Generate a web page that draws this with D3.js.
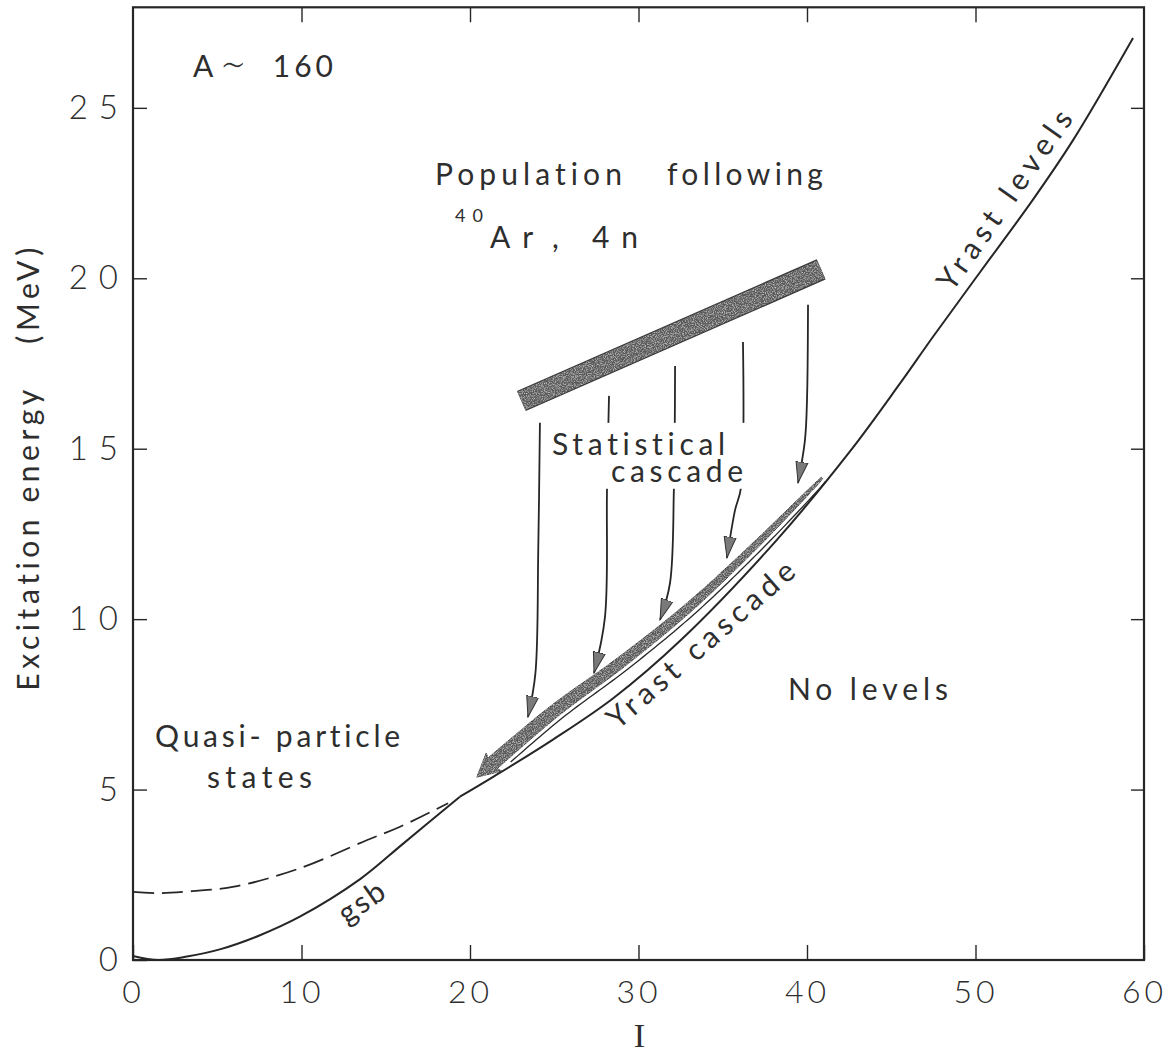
<!DOCTYPE html>
<html><head><meta charset="utf-8">
<script src="https://cdn.jsdelivr.net/npm/d3@7"></script>
<style>
html,body{margin:0;padding:0;background:#fff;}
svg{display:block;}
text{font-family:Lato,"Open Sans","DejaVu Sans",sans-serif;font-weight:400;fill:#2e2e2e;font-variant-ligatures:none;}
</style></head><body>
<svg id="chart" width="1175" height="1057"></svg>
<script>
// ---------- data ----------
const xTicks = [0, 10, 20, 30, 40, 50, 60];
const yTicks = [0, 5, 10, 15, 20, 25];
const xInnerTicks = [10, 20, 30, 40, 50];
const yInnerTicks = [5, 10, 15, 20, 25];

// ground-state band (solid, I < ~19)
const gsbCurve = [[0,0.12],[1.5,0.0],[3.2,0.1],[5.2,0.32],[7.5,0.72],[9.9,1.27],[13.5,2.38],[16.0,3.4],[19.4,4.79]];
// yrast line (solid, I > ~19)
const yrastCurve = [[19.4,4.79],[21.4,5.38],[24.9,6.46],[28.5,7.68],[32.5,9.38],[38.2,12.32],[42.55,14.92],[45.5,16.9],[47.5,18.3],[50.3,20.2],[53.4,22.3],[55.8,24.06],[59.35,27.05]];
// quasi-particle states (dashed)
const quasiCurve = [[0,2.0],[1.6,1.96],[3.5,2.02],[6.0,2.15],[9.9,2.69],[13.9,3.52],[15.85,3.91],[18.7,4.6]];
// entry population band (40Ar,4n)
const populationBand = [[23.05,16.4],[40.84,20.26]];
// statistical cascade arrows (start ... tip)
const statArrow1 = [[24.15,15.76],[24.05,12.0],[23.88,8.4],[23.44,7.13]];
const statArrow2 = [[28.25,16.55],[28.13,13.79],[28.01,10.06],[27.36,8.42]];
const statArrow3 = [[32.17,17.43],[32.1,13.82],[31.87,11.06],[31.28,9.98]];
const statArrow4 = [[36.2,18.13],[36.08,13.85],[35.73,13.2],[35.25,11.8]];
const statArrow5 = [[40.06,19.22],[40.0,16.43],[39.88,15.26],[39.47,14.0]];
// yrast cascade arrow body (thin end ... arrow-head base)
const yrastCascadeBody = [[40.89,14.14],[37.0,12.2],[33.0,10.35],[29.0,8.75],[25.0,7.3],[21.34,5.77]];

// ---------- scales ----------
const svg = d3.select("#chart");
const x = d3.scaleLinear().domain([0, 60]).range([133, 1144]);
const y = d3.scaleLinear().domain([0, 27.95]).range([960, 7.3]);
const ink = "#262626";
const line = d3.line().x(d => x(d[0])).y(d => y(d[1])).curve(d3.curveCatmullRom.alpha(0.5));

const defs = svg.append("defs");
defs.append("marker").attr("id","ah").attr("viewBox","0 -7 22 14")
  .attr("refX",21).attr("refY",0).attr("markerWidth",22).attr("markerHeight",14)
  .attr("markerUnits","userSpaceOnUse").attr("orient","auto")
  .append("path").attr("d","M0,-6L21,0L0,6Z").attr("fill","#7a7a7a").attr("stroke","#333").attr("stroke-width",1);
const grain = defs.append("filter").attr("id","grain");
grain.append("feTurbulence").attr("type","fractalNoise").attr("baseFrequency",0.9).attr("numOctaves",2).attr("seed",7).attr("result","t");
grain.append("feColorMatrix").attr("in","t").attr("type","matrix")
  .attr("values","0 0 0 0 1  0 0 0 0 1  0 0 0 0 1  1.2 0 0 0 -0.52").attr("result","w");
grain.append("feComposite").attr("in","w").attr("in2","SourceGraphic").attr("operator","in").attr("result","ws");
const gm = grain.append("feMerge");
gm.append("feMergeNode").attr("in","SourceGraphic");
gm.append("feMergeNode").attr("in","ws");

// ---------- axes ----------
const gx = svg.append("g").attr("transform",`translate(0,${y(0)})`)
  .call(d3.axisBottom(x).tickValues(xTicks).tickSizeInner(-15).tickSizeOuter(0).tickPadding(20).tickFormat(d=>d));
const gy = svg.append("g").attr("transform",`translate(${x(0)},0)`)
  .call(d3.axisLeft(y).tickValues(yTicks).tickSizeInner(-14).tickSizeOuter(0).tickPadding(15).tickFormat(d=>d));
const gt = svg.append("g").attr("transform",`translate(0,${y(27.95)})`)
  .call(d3.axisTop(x).tickValues(xInnerTicks).tickSizeInner(-15).tickSizeOuter(0).tickFormat(""));
const gr = svg.append("g").attr("transform",`translate(${x(60)},0)`)
  .call(d3.axisRight(y).tickValues(yInnerTicks).tickSizeInner(-13).tickSizeOuter(0).tickFormat(""));
[gx,gy,gt,gr].forEach(g=>{ g.select(".domain").remove(); g.selectAll(".tick line").attr("stroke",ink).attr("stroke-width",1.4); });
gx.selectAll("text").attr("font-size",32).attr("letter-spacing","4px").attr("fill","#2e2e2e").style("font-family","Lato,sans-serif").style("font-weight",300);
gy.selectAll("text").attr("font-size",33).attr("letter-spacing","11px").attr("x",-4).attr("fill","#2e2e2e").style("font-family","Lato,sans-serif").style("font-weight",300);

svg.append("rect").attr("x",x(0)).attr("y",y(27.95)).attr("width",x(60)-x(0)).attr("height",y(0)-y(27.95))
  .attr("fill","none").attr("stroke",ink).attr("stroke-width",2.2);

// ---------- curves ----------
svg.append("path").attr("d",line(gsbCurve)).attr("fill","none").attr("stroke",ink).attr("stroke-width",2);
svg.append("path").attr("d",line(yrastCurve)).attr("fill","none").attr("stroke",ink).attr("stroke-width",2);
svg.append("path").attr("d",line(quasiCurve)).attr("fill","none").attr("stroke",ink).attr("stroke-width",1.8).attr("stroke-dasharray","21 8");

// population band
const pb = d3.line().x(d=>x(d[0])).y(d=>y(d[1]));
svg.append("path").attr("d",pb(populationBand)).attr("stroke","#3a3a3a").attr("stroke-width",22).attr("stroke-linecap","butt");
svg.append("path").attr("d",pb(populationBand)).attr("stroke","#5a5a5a").attr("stroke-width",19.5).attr("stroke-linecap","butt").attr("filter","url(#grain)");

// statistical cascade arrows
const arrowsG = svg.append("g");
[statArrow1,statArrow2,statArrow3,statArrow4,statArrow5].forEach(a=>{
  arrowsG.append("path").attr("d",line(a)).attr("fill","none").attr("stroke",ink).attr("stroke-width",1.8).attr("marker-end","url(#ah)");
});
const gapG = svg.append("g");   // white gaps behind "Statistical cascade"

// yrast cascade tapered arrow
(function(){
  const tmp = svg.append("path").attr("d",line(yrastCascadeBody)).attr("fill","none").attr("stroke","none");
  const node = tmp.node(), L = node.getTotalLength(), N = 90;
  const up=[], lo=[], thin=[];
  let last=null, dir=null;
  for(let i=0;i<=N;i++){
    const s=L*i/N, p=node.getPointAtLength(s);
    const p1=node.getPointAtLength(Math.max(0,s-1)), p2=node.getPointAtLength(Math.min(L,s+1));
    let dx=p2.x-p1.x, dy=p2.y-p1.y; const len=Math.hypot(dx,dy); dx/=len; dy/=len;
    const nx=-dy, ny=dx, w=1.0+6.0*Math.pow(i/N,0.6);
    up.push([p.x+nx*w,p.y+ny*w]); lo.push([p.x-nx*w,p.y-ny*w]);
    thin.push([p.x-nx*(w+4),p.y-ny*(w+4)]);
    last=p; dir=[dx,dy];
  }
  tmp.remove();
  const nx=-dir[1], ny=dir[0];
  const tip=[last.x+dir[0]*21,last.y+dir[1]*21];
  const b1=[last.x-dir[0]*2+nx*12,last.y-dir[1]*2+ny*12];
  const b2=[last.x-dir[0]*2-nx*12,last.y-dir[1]*2-ny*12];
  const poly=[...up,b1,tip,b2,...lo.reverse()];
  svg.append("path").attr("d","M"+poly.map(p=>p.join(",")).join("L")+"Z")
    .attr("fill","#5a5a5a").attr("stroke","#3a3a3a").attr("stroke-width",0.9).attr("filter","url(#grain)");
  svg.append("path").attr("d",d3.line()(thin.slice(0,N-2))).attr("fill","none").attr("stroke",ink).attr("stroke-width",1.3);
})();

// ---------- labels ----------
function label(t, I, E, size, opts={}){
  const el = svg.append("text").attr("x",x(I)).attr("y",y(E)).attr("font-size",size).text(t);
  if(opts.len) el.attr("textLength",opts.len).attr("lengthAdjust","spacing");
  if(opts.anchor) el.attr("text-anchor",opts.anchor);
  if(opts.rot!==undefined) el.attr("transform",`rotate(${opts.rot},${x(I)},${y(E)})`);
  if(opts.family) el.style("font-family",opts.family);
  if(opts.weight) el.style("font-weight",opts.weight);
  return el;
}
label("A", 3.56, 25.91, 30);
label("\u223C", 5.2, 25.85, 40, {family:"'DejaVu Sans',sans-serif", weight:200});
label("160", 8.3, 25.91, 30, {len:60});
label("Population", 17.92, 22.74, 30, {len:187});
label("following", 31.69, 22.74, 30, {len:156});
label("40", 19.11, 21.66, 18, {len:28});
label("Ar", 21.19, 20.89, 30, {len:43});
label(",", 24.87, 20.89, 30);
label("4 n", 27.24, 20.89, 30, {len:46});

const stA = label("Statistical", 24.87, 14.82, 30, {len:173});
const stB = label("cascade", 28.37, 14.03, 30, {len:132});
const b1 = stA.node().getBBox(), b2 = stB.node().getBBox();
const bx0 = Math.min(b1.x,b2.x)-4, bx1 = Math.max(b1.x+b1.width,b2.x+b2.width)+7;
const by0 = b1.y-2, by1 = b2.y+b2.height+1;
gapG.append("rect").attr("x",bx0).attr("y",by0).attr("width",bx1-bx0).attr("height",by1-by0).attr("fill","#fff");

label("Quasi- particle", 1.31, 6.25, 30, {len:245});
label("states", 4.39, 5.05, 30, {len:105});
label("No  levels", 38.87, 7.63, 30, {len:160});
label("gsb", 13.9, 1.45, 30, {anchor:"middle", rot:-35, len:50});
label("Yrast  cascade", 34.1, 9.02, 30, {anchor:"middle", rot:-41, len:238});
label("Yrast  levels", 52.23, 22.12, 30, {anchor:"middle", rot:-55, len:212});

// axis titles
svg.append("text").attr("transform",`translate(39,${y(7.9)}) rotate(-90)`).attr("font-size",30)
  .attr("textLength",301).attr("lengthAdjust","spacing").text("Excitation energy");
svg.append("text").attr("transform",`translate(39,${y(18.08)}) rotate(-90)`).attr("font-size",30)
  .attr("textLength",96).attr("lengthAdjust","spacing").text("(MeV)");
svg.append("text").attr("x",x(30.05)).attr("y",1047).attr("text-anchor","middle").attr("font-size",34)
  .style("font-family","'Liberation Serif','DejaVu Serif',serif").style("font-weight",400).text("I");
</script>
</body></html>
